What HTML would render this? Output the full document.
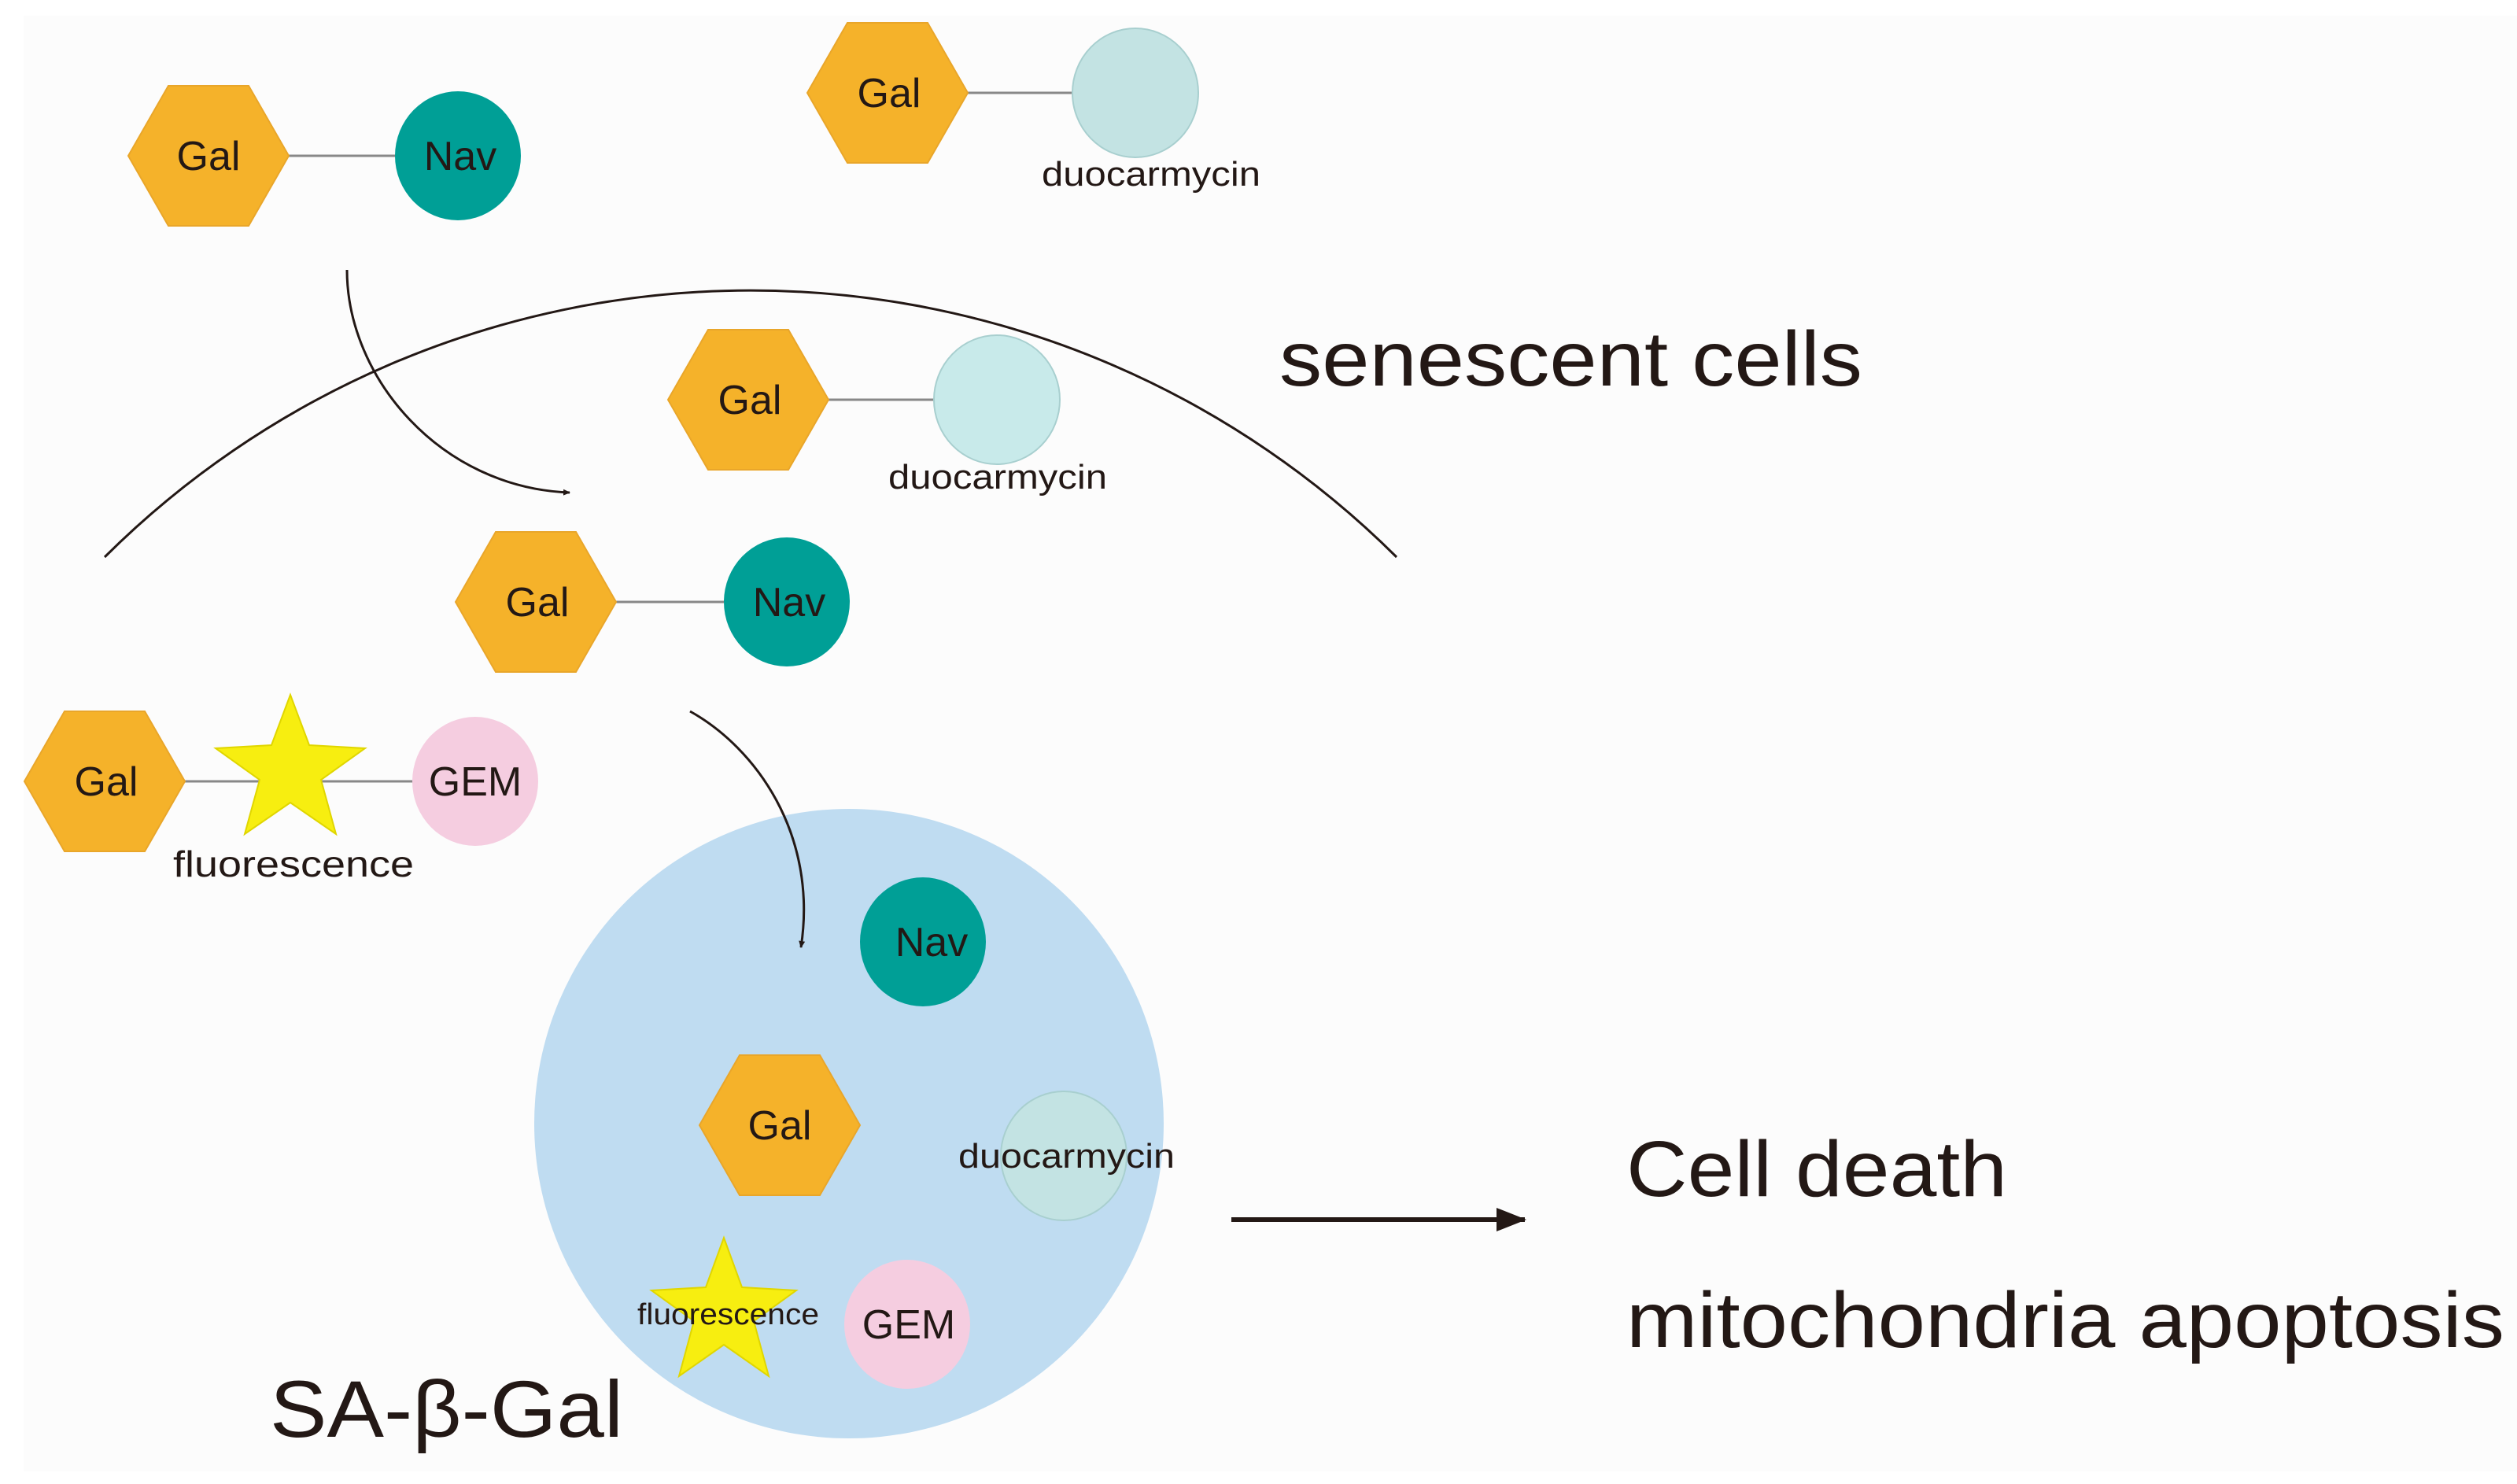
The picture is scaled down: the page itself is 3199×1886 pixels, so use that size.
<!DOCTYPE html>
<html><head><meta charset="utf-8"><style>
html,body{margin:0;padding:0;background:#fff;}
svg{display:block;}
text{font-family:"Liberation Sans",sans-serif;fill:#231815;}
</style></head><body>
<svg width="3199" height="1886" viewBox="0 0 3199 1886" xmlns="http://www.w3.org/2000/svg">
<defs>
<polygon id="hex" points="-102,0 -51,-89 51,-89 102,0 51,89 -51,89" fill="#f5b22a" stroke="#e9a62a" stroke-width="2"/>
<marker id="ah" markerWidth="10" markerHeight="10" refX="8" refY="5" orient="auto" markerUnits="userSpaceOnUse"><path d="M0,1 L9,5 L0,9 Z" fill="#231815"/></marker>
<marker id="ah2" markerWidth="40" markerHeight="30" refX="36" refY="15" orient="auto" markerUnits="userSpaceOnUse"><path d="M0,0 L38,15 L0,30 Z" fill="#231815"/></marker>
</defs>
<rect x="30" y="20" width="3169" height="1850" fill="#fcfcfc"/>

<line x1="367" y1="198" x2="502" y2="198" stroke="#888" stroke-width="3"/>
<use href="#hex" x="265" y="198"/>
<text x="265" y="216" font-size="52" text-anchor="middle">Gal</text>
<ellipse cx="582" cy="198" rx="80" ry="82" fill="#009f96"/>
<text x="585" y="216" font-size="52" text-anchor="middle">Nav</text>

<line x1="1230" y1="118" x2="1362" y2="118" stroke="#888" stroke-width="3"/>
<use href="#hex" x="1128" y="118"/>
<text x="1130" y="136" font-size="52" text-anchor="middle">Gal</text>
<ellipse cx="1443" cy="118" rx="80" ry="82" fill="#c3e3e3" stroke="#a8cfcf" stroke-width="2"/>
<text x="1324" y="236" font-size="44" textLength="278" lengthAdjust="spacingAndGlyphs">duocarmycin</text>

<path d="M133,708 A1164,1164 0 0 1 1775,708" fill="none" stroke="#231815" stroke-width="3"/>
<text x="1626" y="490" font-size="98" textLength="741" lengthAdjust="spacingAndGlyphs">senescent cells</text>

<path d="M441,343 C441,480 560,620 724,626" fill="none" stroke="#231815" stroke-width="3" marker-end="url(#ah)"/>

<line x1="1053" y1="508" x2="1188" y2="508" stroke="#888" stroke-width="3"/>
<use href="#hex" x="951" y="508"/>
<text x="953" y="526" font-size="52" text-anchor="middle">Gal</text>
<ellipse cx="1267" cy="508" rx="80" ry="82" fill="#c8eaea" stroke="#a8cfcf" stroke-width="2"/>
<text x="1129" y="621" font-size="44" textLength="278" lengthAdjust="spacingAndGlyphs">duocarmycin</text>

<line x1="783" y1="765" x2="920" y2="765" stroke="#888" stroke-width="3"/>
<use href="#hex" x="681" y="765"/>
<text x="683" y="783" font-size="52" text-anchor="middle">Gal</text>
<ellipse cx="1000" cy="765" rx="80" ry="82" fill="#009f96"/>
<text x="1003" y="783" font-size="52" text-anchor="middle">Nav</text>

<line x1="235" y1="993" x2="525" y2="993" stroke="#888" stroke-width="3"/>
<use href="#hex" x="133" y="993"/>
<text x="135" y="1011" font-size="52" text-anchor="middle">Gal</text>
<polygon points="369,883 393,947 464,951 408,991 427,1060 369,1020 311,1060 330,991 274,951 345,947" fill="#f7ee10" stroke="#e0d600" stroke-width="2"/>
<ellipse cx="604" cy="993" rx="80" ry="82" fill="#f5cde0"/>
<text x="604" y="1011" font-size="52" text-anchor="middle">GEM</text>
<text x="220" y="1114" font-size="46" textLength="306" lengthAdjust="spacingAndGlyphs">fluorescence</text>

<circle cx="1079" cy="1428" r="400" fill="#bfdcf1"/>
<path d="M877,904 C960,950 1040,1060 1018,1204" fill="none" stroke="#231815" stroke-width="3" marker-end="url(#ah)"/>
<ellipse cx="1173" cy="1197" rx="80" ry="82" fill="#009f96"/>
<text x="1184" y="1215" font-size="52" text-anchor="middle">Nav</text>
<use href="#hex" x="991" y="1430"/>
<text x="991" y="1448" font-size="52" text-anchor="middle">Gal</text>
<ellipse cx="1352" cy="1469" rx="80" ry="82" fill="#c3e3e3" stroke="#a8cfcf" stroke-width="2"/>
<text x="1218" y="1484" font-size="44" textLength="275" lengthAdjust="spacingAndGlyphs">duocarmycin</text>
<polygon points="920,1573 943,1636 1012,1640 958,1679 977,1749 920,1709 863,1749 882,1679 828,1640 897,1636" fill="#f7ee10" stroke="#e0d600" stroke-width="2"/>
<text x="810" y="1683" font-size="38" textLength="231" lengthAdjust="spacingAndGlyphs">fluorescence</text>
<ellipse cx="1153" cy="1683" rx="80" ry="82" fill="#f5cde0"/>
<text x="1155" y="1701" font-size="52" text-anchor="middle">GEM</text>

<text x="343" y="1826" font-size="102" textLength="449" lengthAdjust="spacingAndGlyphs">SA-β-Gal</text>

<line x1="1565" y1="1550" x2="1938" y2="1550" stroke="#231815" stroke-width="6" marker-end="url(#ah2)"/>
<text x="2067" y="1520" font-size="100" textLength="484" lengthAdjust="spacingAndGlyphs">Cell death</text>
<text x="2067" y="1712" font-size="100" textLength="1116" lengthAdjust="spacingAndGlyphs">mitochondria apoptosis</text>
</svg>
</body></html>
